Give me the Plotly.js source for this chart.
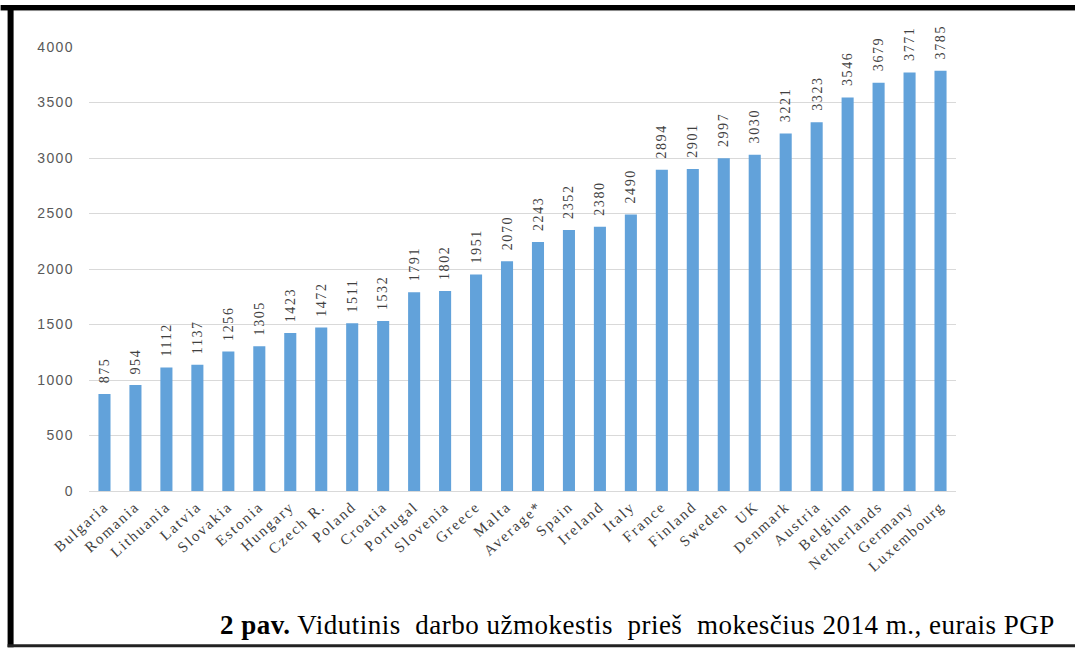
<!DOCTYPE html>
<html>
<head>
<meta charset="utf-8">
<script src="https://cdn.plot.ly/plotly-3.0.1.min.js"></script>
<style>
html,body{margin:0;padding:0;background:#fff;}
#chart{width:1075px;height:649px;}
#chart .xtick text{letter-spacing:1.9px;}
#chart .ytick text{letter-spacing:1.4px;}
text.annotation-text{letter-spacing:1.6px;}
#chart .gtitle{letter-spacing:0.5px;}
</style>
</head>
<body>
<div id="chart"></div>
<script>
const countries = ["Bulgaria","Romania","Lithuania","Latvia","Slovakia","Estonia","Hungary","Czech R.","Poland","Croatia","Portugal","Slovenia","Greece","Malta","Average*","Spain","Ireland","Italy","France","Finland","Sweden","UK","Denmark","Austria","Belgium","Netherlands","Germany","Luxembourg"];
const wages = [875,954,1112,1137,1256,1305,1423,1472,1511,1532,1791,1802,1951,2070,2243,2352,2380,2490,2894,2901,2997,3030,3221,3323,3546,3679,3771,3785];
const yTicks = [0,500,1000,1500,2000,2500,3000,3500,4000];
const captionText = "<b>2 pav.</b> Vidutinis  darbo užmokestis  prieš  mokesčius 2014 m., eurais PGP";

const W = 1075, H = 649;
const m = {l: 88.5, r: 118.5, t: 47, b: 157.5};
const pw = W - m.l - m.r, ph = H - m.t - m.b;
const px = v => (v - m.l) / pw;
const py = v => (H - m.b - v) / ph;
const serif = 'Liberation Serif, Times New Roman, serif';

const trace = {
  type: 'bar',
  x: countries,
  y: wages,
  marker: {color: '#62A2DA'},
  width: 0.39,
  cliponaxis: false,
  hoverinfo: 'x+y'
};

const valueLabels = countries.map((c, i) => ({
  x: c, y: wages[i], xref: 'x', yref: 'y',
  text: String(wages[i]),
  textangle: -90,
  showarrow: false,
  xanchor: 'center', yanchor: 'bottom',
  yshift: 9,
  font: {family: serif, size: 14, color: '#404040'}
}));

const layout = {
  width: W, height: H,
  margin: m,
  paper_bgcolor: '#fff',
  plot_bgcolor: '#fff',
  showlegend: false,
  title: {
    text: captionText,
    x: 220 / W, xanchor: 'left', xref: 'container',
    y: 1 - 625 / H, yanchor: 'middle', yref: 'container',
    font: {family: serif, size: 27, color: '#000'}
  },
  xaxis: {
    tickangle: -42,
    tickfont: {family: serif, size: 15, color: '#404040'},
    showgrid: false,
    showline: false,
    ticks: '',
    ticklabelstandoff: 3,
    fixedrange: true
  },
  yaxis: {
    range: [0, 4000],
    tickvals: yTicks,
    ticktext: yTicks.map(String),
    tickfont: {family: 'Liberation Sans, Arial, sans-serif', size: 14, color: '#595959'},
    showgrid: true,
    gridcolor: '#D9D9D9',
    gridwidth: 1,
    zeroline: true,
    zerolinecolor: '#D9D9D9',
    zerolinewidth: 1,
    showline: false,
    ticks: '',
    ticklabelstandoff: 14,
    fixedrange: true
  },
  annotations: valueLabels,
  shapes: [
    {type: 'line', xref: 'paper', yref: 'paper', x0: px(0), x1: px(W + 10), y0: py(7.5), y1: py(7.5), line: {color: '#000', width: 5}},
    {type: 'line', xref: 'paper', yref: 'paper', x0: px(0), x1: px(W + 10), y0: py(10.5), y1: py(10.5), line: {color: '#888', width: 1}},
    {type: 'line', xref: 'paper', yref: 'paper', x0: px(10), x1: px(10), y0: py(5), y1: py(648), line: {color: '#000', width: 6}},
    {type: 'line', xref: 'paper', yref: 'paper', x0: px(7), x1: px(W + 10), y0: py(646.5), y1: py(646.5), line: {color: '#222', width: 3}}
  ]
};

Plotly.newPlot('chart', [trace], layout, {displayModeBar: false, staticPlot: true});
</script>
</body>
</html>
